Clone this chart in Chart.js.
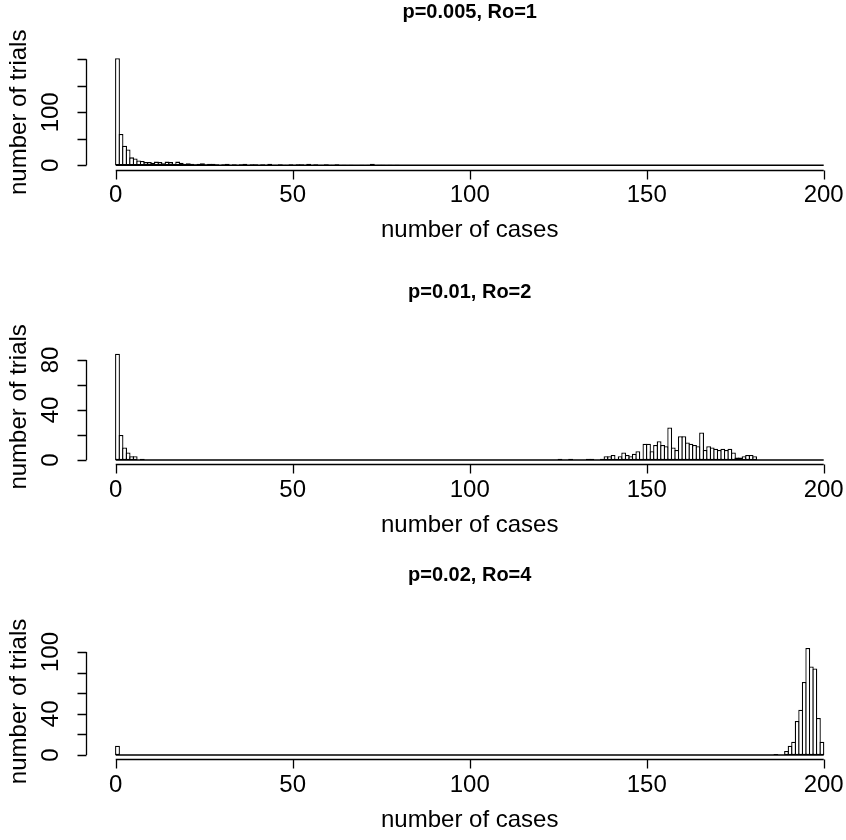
<!DOCTYPE html>
<html>
<head>
<meta charset="utf-8">
<script src="https://cdn.jsdelivr.net/npm/chart.js@4.4.1/dist/chart.umd.min.js"></script>
<style>
  html, body { margin: 0; padding: 0; background: #fff; }
  .panel { position: absolute; left: 0; width: 846px; height: 280px; }
</style>
</head>
<body>
<div class="panel" style="top:0"><canvas id="chart1" width="846" height="280"></canvas></div>
<div class="panel" style="top:280px"><canvas id="chart2" width="846" height="280"></canvas></div>
<div class="panel" style="top:560px"><canvas id="chart3" width="846" height="280"></canvas></div>
<script>
// histogram counts, one bin per number of cases [k, k+1), k = 0..199
const nBins = 200;

// p=0.005, Ro=1 : bins 0-79 (all later bins empty)
const casesP1 = [
  202, 59, 37, 30, 15, 13, 9, 8, 6, 6,
  5, 7, 6, 4, 7, 6, 3, 7, 5, 3,
  4, 3, 2, 3, 4, 2, 3, 3, 2, 1,
  2, 3, 1, 2, 1, 2, 3, 1, 2, 2,
  1, 2, 1, 3, 1, 1, 2, 1, 1, 2,
  1, 2, 2, 1, 3, 1, 2, 1, 1, 2,
  1, 1, 2, 0, 1, 0, 1, 0, 0, 1,
  0, 1, 3, 0, 1, 1, 0, 1, 0, 1
];

// p=0.01, Ro=2 : bins 0-7 and bins 125-180
const casesP2Low = [85, 20, 10, 6, 3, 3, 0, 1];
const casesP2High = [
  1, 0, 0, 1, 0, 0, 0, 0, 1, 1,
  0, 0, 1, 3, 3, 4, 1, 3, 6, 4,
  3, 5, 7, 1, 13, 13, 7, 12, 15, 12,
  11, 26, 10, 8, 19, 19, 14, 13, 12, 11,
  22, 8, 11, 10, 9, 8, 9, 8, 9, 6,
  2, 2, 3, 4, 4, 3
];

// p=0.02, Ro=4 : bin 0 and bins 186-199
const casesP3Low = [9];
const casesP3High = [1, 0, 0, 4, 9, 13, 33, 44, 71, 104, 86, 84, 36, 13];

const titles = ['p=0.005, Ro=1', 'p=0.01, Ro=2', 'p=0.02, Ro=4'];
const xTicks = [0, 50, 100, 150, 200];
const yTicksP1 = [0, 50, 100, 150, 200];
const yLabelsP1 = ['0', '', '100', '', ''];
const yTicksP2 = [0, 20, 40, 60, 80];
const yLabelsP2 = ['0', '', '40', '', '80'];
const yTicksP3 = [0, 20, 40, 60, 80, 100];
const yLabelsP3 = ['0', '', '40', '', '', '100'];

function toBins(parts) {
  const out = new Array(nBins).fill(0);
  parts.forEach(([start, arr]) => arr.forEach((v, i) => { out[start + i] = v; }));
  return out.map((v, k) => ({ x: k + 0.5, y: v }));
}

const FONT = '"Liberation Sans", Arial, Helvetica, sans-serif';
const TICK = 9;
const LW = 1.3;

function drawText(ctx, str, px, py, font, vertical) {
  ctx.save();
  ctx.translate(px, py);
  if (vertical) ctx.rotate(-Math.PI / 2);
  ctx.font = font;
  ctx.textAlign = 'center';
  ctx.textBaseline = 'middle';
  ctx.fillText(str, 0, 0);
  ctx.restore();
}

// R style axes: detached from the box, lines only between first and last tick
const rAxes = {
  id: 'rAxes',
  afterDraw(chart, args, o) {
    const { ctx, chartArea: a, scales: { x, y } } = chart;
    ctx.save();
    ctx.strokeStyle = '#000';
    ctx.fillStyle = '#000';
    ctx.lineWidth = LW;

    const yb = Math.round(a.bottom) + 0.5;
    ctx.beginPath();
    ctx.moveTo(x.getPixelForValue(xTicks[0]), yb);
    ctx.lineTo(x.getPixelForValue(xTicks[xTicks.length - 1]), yb);
    xTicks.forEach(v => {
      const px = Math.round(x.getPixelForValue(v)) + 0.5;
      ctx.moveTo(px, yb);
      ctx.lineTo(px, yb + TICK);
    });
    const xl = Math.round(a.left) - 0.5;
    ctx.moveTo(xl, y.getPixelForValue(o.yTicks[0]));
    ctx.lineTo(xl, y.getPixelForValue(o.yTicks[o.yTicks.length - 1]));
    o.yTicks.forEach(v => {
      const py = Math.round(y.getPixelForValue(v)) + 0.5;
      ctx.moveTo(xl, py);
      ctx.lineTo(xl - TICK, py);
    });
    ctx.stroke();

    const axisFont = '24px ' + FONT;
    xTicks.forEach(v => drawText(ctx, String(v), x.getPixelForValue(v), a.bottom + 26, axisFont));
    o.yTicks.forEach((v, i) => {
      if (o.yLabels[i]) drawText(ctx, o.yLabels[i], 51, y.getPixelForValue(v), axisFont, true);
    });
    const midX = x.getPixelForValue((xTicks[0] + xTicks[xTicks.length - 1]) / 2);
    drawText(ctx, 'number of cases', midX, a.bottom + 61, axisFont);
    drawText(ctx, 'number of trials', 19, (a.top + a.bottom) / 2, axisFont, true);
    drawText(ctx, o.title, midX, o.titleY, 'bold 20px ' + FONT);
    ctx.restore();
  }
};

function makeHist(id, series, title, titleY, yTicks, yLabels, yMin, yMax, pad) {
  new Chart(document.getElementById(id), {
    data: {
      datasets: [
        {
          type: 'bar',
          data: series,
          backgroundColor: '#fff',
          borderColor: '#000',
          borderWidth: LW,
          borderSkipped: false,
          barPercentage: 1 + LW / 3.54,
          categoryPercentage: 1,
          order: 1
        },
        {
          type: 'line',
          data: [{ x: xTicks[0], y: 0 }, { x: xTicks[xTicks.length - 1], y: 0 }],
          borderColor: '#000',
          borderWidth: 1.6,
          pointRadius: 0,
          order: 0
        }
      ]
    },
    options: {
      responsive: false,
      animation: false,
      layout: { padding: pad },
      scales: {
        x: { type: 'linear', display: false, offset: false, min: -8, max: 206.3 },
        y: { type: 'linear', display: false, min: yMin, max: yMax }
      },
      plugins: {
        legend: { display: false },
        tooltip: { enabled: false },
        rAxes: { title, titleY, yTicks, yLabels }
      }
    },
    plugins: [rAxes]
  });
}

makeHist('chart1', toBins([[0, casesP1]]), titles[0], 12, yTicksP1, yLabelsP1, -8, 208,
  { left: 87.4, right: 0, top: 55.06, bottom: 280 - 169.54 });
makeHist('chart2', toBins([[0, casesP2Low], [125, casesP2High]]), titles[1], 12, yTicksP2, yLabelsP2, -3.4, 88.4,
  { left: 87.4, right: 0, top: 69.5, bottom: 280 - 184.25 });
makeHist('chart3', toBins([[0, casesP3Low], [186, casesP3High]]), titles[2], 15, yTicksP3, yLabelsP3, -4.16, 108.2,
  { left: 87.4, right: 0, top: 83.6, bottom: 280 - 199.3 });
</script>
</body>
</html>
